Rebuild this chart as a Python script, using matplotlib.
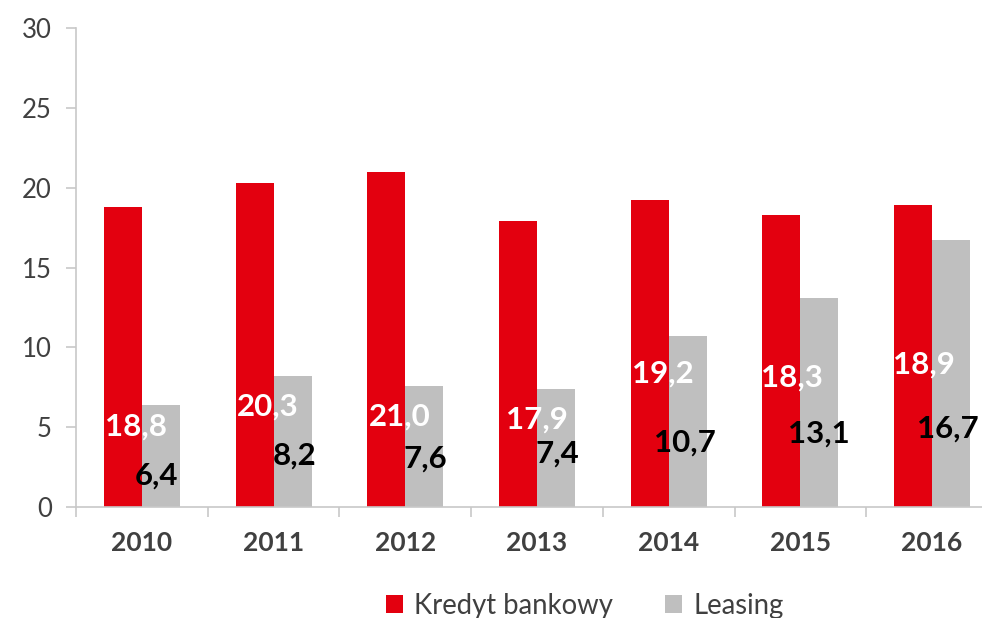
import numpy as np
import matplotlib.pyplot as plt
from matplotlib.ticker import FixedLocator

# data
years = ['2010', '2011', '2012', '2013', '2014', '2015', '2016']
kredyt = [18.8, 20.3, 21.0, 17.9, 19.2, 18.3, 18.9]
leasing = [6.4, 8.2, 7.6, 7.4, 10.7, 13.1, 16.7]

# label placement (baseline in data units, x offset in px from group centre)
kredyt_lab_y = [4.50, 5.75, 5.12, 4.94, 7.82, 7.51, 8.33]
kredyt_lab_dx = [-6, -6, -5, 0, -6, -8, -8]
leasing_lab_y = [1.38, 2.63, 2.44, 2.75, 3.44, 4.01, 4.32]
leasing_lab_dx = [15, 21, 20, 20, 16, 19, 16]

RED = '#E3000F'
GREY = '#BFBFBF'
TXT = '#404040'

plt.rcParams['font.family'] = ['Lato', 'DejaVu Sans']

W, H = 982, 618
fig = plt.figure(figsize=(W / 100, H / 100), dpi=100)
ax = fig.add_axes([76 / W, 1 - 507 / H, (W - 76) / W, 479 / H])

cat_px = 131.7
x = np.arange(len(years))
bw = 38 / cat_px

ax.bar(x - bw / 2, kredyt, bw, color=RED, label='Kredyt bankowy')
ax.bar(x + bw / 2, leasing, bw, color=GREY, label='Leasing')

for i in range(len(years)):
    ax.text(i + kredyt_lab_dx[i] / cat_px, kredyt_lab_y[i], f'{kredyt[i]:.1f}'.replace('.', ','),
            ha='center', va='baseline', color='white', fontsize=22.5, fontweight='bold')
    ax.text(i + leasing_lab_dx[i] / cat_px, leasing_lab_y[i], f'{leasing[i]:.1f}'.replace('.', ','),
            ha='center', va='baseline', color='black', fontsize=22.5, fontweight='bold')

ax.set_xlim(-0.5, -0.5 + (W - 76) / cat_px)
ax.set_ylim(0, 30)
ax.set_yticks([0, 5, 10, 15, 20, 25, 30])
ax.set_xticks(x)
ax.set_xticklabels(years, fontsize=19, fontweight='bold', color=TXT)
ax.xaxis.set_minor_locator(FixedLocator(np.arange(-0.5, len(years), 1.0)))

for s in ['top', 'right']:
    ax.spines[s].set_visible(False)
for s in ['left', 'bottom']:
    ax.spines[s].set_color('#C8C8C8')
    ax.spines[s].set_linewidth(1.2)

ax.tick_params(axis='y', length=7.5, width=1.2, color='#C8C8C8', labelsize=18.5,
               labelcolor=TXT, pad=10)
ax.tick_params(axis='x', which='major', length=0, pad=17)
ax.tick_params(axis='x', which='minor', length=7.5, width=1.2, color='#C8C8C8')

fig.legend(loc='center', bbox_to_anchor=(585 / W, 1 - 606 / H), ncol=2, frameon=False,
           fontsize=19.8, handlelength=0.62, handleheight=0.62, handletextpad=0.4,
           columnspacing=1.9, labelcolor=TXT)

fig.savefig('out.png', dpi=100)
